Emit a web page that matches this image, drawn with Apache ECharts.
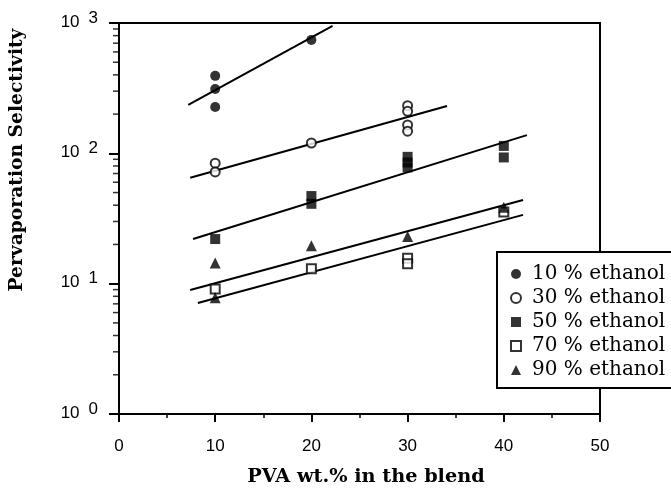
<!DOCTYPE html>
<html><head><meta charset="utf-8">
<script src="https://cdn.jsdelivr.net/npm/echarts@6/dist/echarts.min.js"></script>
<style>html,body{margin:0;padding:0;background:#fff}#c{width:671px;height:496px}</style>
</head><body><div id="c"></div>
<script>
// data
var s10 = [[10,393],[10,312],[10,227],[20,742]];
var s30 = [[10,84],[10,72],[20,120],[30,232],[30,210],[30,165],[30,148]];
var s50 = [[10,22],[20,47],[20,41],[30,94],[30,85],[30,78],[40,114],[40,93]];
var s70 = [[10,9.1],[20,13],[30,15.7],[30,14.2],[40,35.5]];
var s90 = [[10,14.4],[10,7.8],[20,19.5],[30,23],[40,38.5]];
var fit10 = [[7.2,235],[22.2,950]];
var fit30 = [[7.4,65],[34.1,231]];
var fit50 = [[7.7,22],[42.4,138]];
var fit90 = [[7.4,8.95],[42,43.9]];
var fit70 = [[8.2,7.1],[42,33.7]];
var seriesNames = ['10 % ethanol','30 % ethanol','50 % ethanol','70 % ethanol','90 % ethanol'];
var xTitle = 'PVA wt.% in the blend';
var yTitle = 'Pervaporation Selectivity';
var minorTickValues = [];
[1,10,100].forEach(function(d){for(var k=2;k<=9;k++)minorTickValues.push([0,k*d]);});

var chart = echarts.init(document.getElementById('c'));
var lineStyle = {color:'#000',width:2};
function fitSeries(d){return {type:'line',data:d,symbol:'none',lineStyle:lineStyle,silent:true,z:3};}
function titleStyle(t,size){return {text:t,textAlign:'center',textVerticalAlign:'middle',
  fontFamily:'DejaVu Serif',fontWeight:'bold',fontSize:size,fill:'#000'};}
chart.setOption({
  animation:false,
  grid:{left:119,right:71,top:23,bottom:82,show:true,borderColor:'#000',borderWidth:2,containLabel:false},
  graphic:[
    {type:'text',x:366,y:477,style:titleStyle(xTitle,19.3)},
    {type:'text',x:17,y:160,rotation:Math.PI/2,style:titleStyle(yTitle,18.7)}
  ],
  legend:{
    data:seriesNames.map(function(n){return {name:n};}),
    orient:'vertical',left:497,top:252,
    padding:[12,80,8,13],itemGap:4,itemWidth:10,itemHeight:10,
    backgroundColor:'#fff',borderColor:'#000',borderWidth:2,
    textStyle:{fontFamily:'DejaVu Serif',fontSize:20,lineHeight:20,color:'#000',padding:[0,0,0,6]},
    z:10
  },
  xAxis:{type:'value',min:0,max:50,interval:10,
    axisLine:{lineStyle:{color:'#000',width:2}},
    axisTick:{show:true,length:8,lineStyle:{color:'#000',width:2}},
    minorTick:{show:true,splitNumber:2,length:4,lineStyle:{color:'#000',width:1.5}},
    splitLine:{show:false},
    axisLabel:{fontFamily:'Liberation Sans',fontSize:17,color:'#000',margin:24}
  },
  yAxis:{type:'log',logBase:10,min:1,max:1000,
    axisLine:{lineStyle:{color:'#000',width:2}},
    axisTick:{show:true,length:10,lineStyle:{color:'#000',width:2}},
    splitLine:{show:false},
    axisLabel:{margin:21,color:'#000',
      formatter:function(v){return '{b|10}{s|'+Math.round(Math.log10(v))+'}';},
      rich:{b:{fontFamily:'Liberation Sans',fontSize:17,color:'#000',padding:[0,0,2,0]},
            s:{fontFamily:'Liberation Sans',fontSize:17,color:'#000',padding:[0,0,10,9]}}
    }
  },
  series:[
    {type:'scatter',name:'ticks',data:minorTickValues,symbol:'rect',symbolSize:[6,1.5],symbolOffset:[-3,0],
     itemStyle:{color:'#000'},silent:true,clip:false,z:4},
    fitSeries(fit10),fitSeries(fit30),fitSeries(fit50),fitSeries(fit90),fitSeries(fit70),
    {type:'scatter',name:seriesNames[0],data:s10,symbol:'circle',symbolSize:10,itemStyle:{color:'#000'},z:5},
    {type:'scatter',name:seriesNames[1],data:s30,symbol:'emptyCircle',symbolSize:9,itemStyle:{color:'#000',borderColor:'#000',borderWidth:1.8},z:5},
    {type:'scatter',name:seriesNames[2],data:s50,symbol:'rect',symbolSize:10,itemStyle:{color:'#000'},z:5},
    {type:'scatter',name:seriesNames[3],data:s70,symbol:'emptyRect',symbolSize:9,itemStyle:{color:'#000',borderColor:'#000',borderWidth:1.8},z:5},
    {type:'scatter',name:seriesNames[4],data:s90,symbol:'triangle',symbolSize:11,itemStyle:{color:'#000'},z:5}
  ]
});
</script></body></html>
